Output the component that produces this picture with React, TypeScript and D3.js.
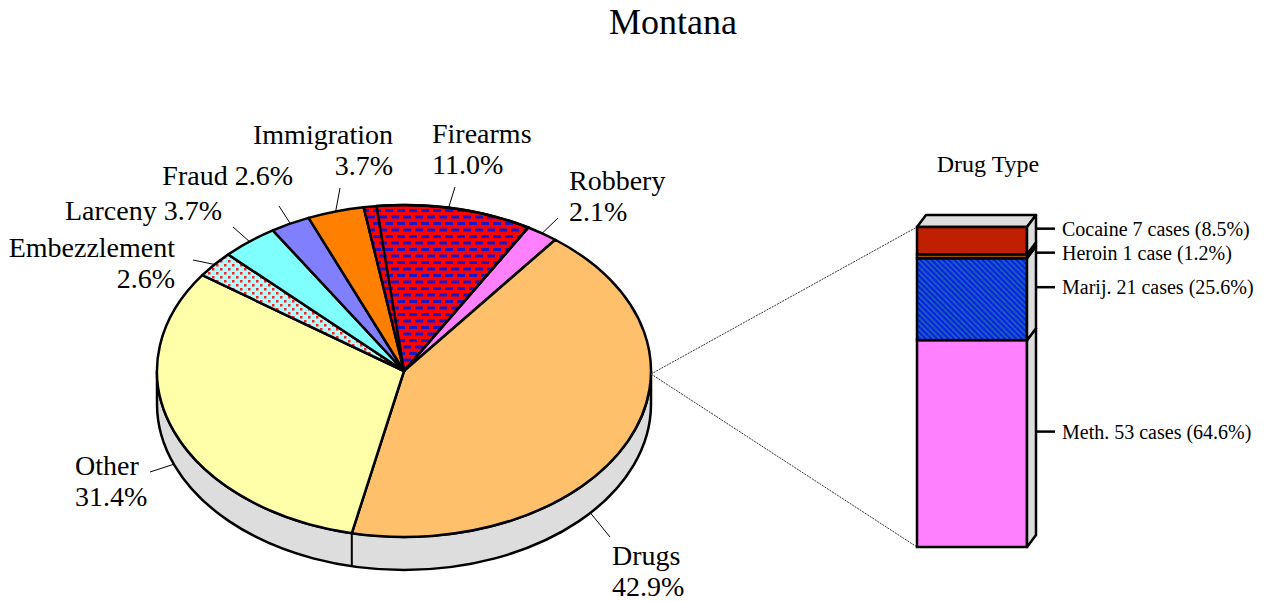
import React from 'react';
import * as d3 from 'd3';

// ---- data ----
const categories = ['Robbery', 'Drugs', 'Other', 'Embezzlement', 'Larceny', 'Fraud', 'Immigration', 'Firearms'];
const percents = [2.1, 42.9, 31.4, 2.6, 3.7, 2.6, 3.7, 11.0];
const sliceFills = ['#FF80FF', '#FFC06C', '#FFFFAA', 'url(#embez)', '#80FFFF', '#8080FF', '#FF8000', 'url(#firearms)'];

const drugTypes = ['Meth.', 'Marij.', 'Heroin', 'Cocaine'];
const drugCases = [53, 21, 1, 7];
const drugPct = [64.6, 25.6, 1.2, 8.5];
const drugFills = ['#FF80FF', 'url(#marij)', '#A05000', '#C02000'];

// ---- layout ----
const W = 1272, H = 602;
const FONT = "'Liberation Serif', 'Times New Roman', serif";
const cx = 404, cy = 371, rx = 247, ry = 166, depth = 33;
const startDeg = 30.2;

// label layout (text placement and leader end)
const labelLayout: Record<string, any> = {
  Robbery: { x: 569, y: 190, anchor: 'start', two: true, lx: 558, ly: 218 },
  Drugs: { x: 612, y: 565, anchor: 'start', two: true, lx: 610, ly: 537, angle: 131 },
  Other: { x: 75, y: 475, anchor: 'start', two: true, lx: 150, ly: 472 },
  Embezzlement: { x: 175, y: 257, anchor: 'end', two: true, lx: 193, ly: 260 },
  Larceny: { x: 222, y: 220, anchor: 'end', two: false, lx: 233, ly: 227 },
  Fraud: { x: 293, y: 185, anchor: 'end', two: false, lx: 279, ly: 206 },
  Immigration: { x: 393, y: 144, anchor: 'end', two: true, lx: 340, ly: 188 },
  Firearms: { x: 432, y: 143, anchor: 'start', two: true, lx: 455, ly: 187 },
};

const bar = { x0: 917, x1: 1027, top: 227, bottom: 547, dx: 9, dy: 12 };

function pt(a: number, dz = 0): [number, number] {
  return [cx + rx * Math.sin(a), cy - ry * Math.cos(a) + dz];
}
function slicePath(a0: number, a1: number) {
  const p0 = pt(a0), p1 = pt(a1);
  const large = a1 - a0 > Math.PI ? 1 : 0;
  return `M${cx},${cy}L${p0[0]},${p0[1]}A${rx},${ry} 0 ${large} 1 ${p1[0]},${p1[1]}Z`;
}

export default function App() {
  const rad = (d: number) => (d * Math.PI) / 180;
  const pie = d3.pie<number>().sort(null).value((d) => d)
    .startAngle(rad(startDeg)).endAngle(rad(startDeg) + 2 * Math.PI);
  const arcs = pie(percents);

  const pR = pt(Math.PI / 2), pL = pt(1.5 * Math.PI);
  const pRb = pt(Math.PI / 2, depth), pLb = pt(1.5 * Math.PI, depth);
  const sidePath = `M${pR[0]},${pR[1]}A${rx},${ry} 0 0 1 ${pL[0]},${pL[1]}L${pLb[0]},${pLb[1]}A${rx},${ry} 0 0 0 ${pRb[0]},${pRb[1]}Z`;

  // boundaries visible on side
  const sideEdges: number[] = [];
  arcs.forEach((a) => {
    const e = ((a.endAngle % (2 * Math.PI)) + 2 * Math.PI) % (2 * Math.PI);
    if (e > Math.PI / 2 && e < 1.5 * Math.PI) sideEdges.push(e);
  });

  // bar scale
  const total = d3.sum(drugCases);
  const y = d3.scaleLinear().domain([0, total]).range([bar.bottom, bar.top]);
  let acc = 0;
  const segs = drugCases.map((v, i) => {
    const s = { i, y0: y(acc + v), y1: y(acc) };
    acc += v;
    return s;
  });
  // label positions: from top down with min spacing
  const order = segs.slice().reverse();
  let prev = -Infinity;
  const labelY: Record<number, number> = {};
  order.forEach((s) => {
    let ly = (s.y0 + s.y1) / 2 - bar.dy;
    if (ly < prev + 24) ly = prev + 24;
    labelY[s.i] = ly;
    prev = ly;
  });

  const fa = arcs[7];
  const faInner = slicePath(fa.startAngle + rad(3), fa.endAngle);

  return (
    <svg width={W} height={H} style={{ position: 'absolute', left: 0, top: 0, background: '#fff' }} fontFamily={FONT}>
      <defs>
        <pattern id="firearms" patternUnits="userSpaceOnUse" width={12} height={13}>
          <rect width={12} height={13} fill="#FF0000" />
          <rect x={1} y={1} width={8} height={3} fill="#1818C8" />
          <rect x={7} y={7.5} width={8} height={3} fill="#1818C8" />
          <rect x={-5} y={7.5} width={8} height={3} fill="#1818C8" />
        </pattern>
        <pattern id="embez" patternUnits="userSpaceOnUse" width={8} height={8}>
          <rect width={8} height={8} fill="#A8FFFF" />
          <rect x={0} y={0} width={2.5} height={2.5} fill="#FF2020" />
          <rect x={4} y={4} width={2.5} height={2.5} fill="#FF2020" />
        </pattern>
        <pattern id="marij" patternUnits="userSpaceOnUse" width={4} height={4} patternTransform="rotate(-45)">
          <rect width={4} height={4} fill="#0A1EE0" />
          <line x1={1} y1={0} x2={1} y2={4} stroke="#20A0A0" strokeWidth={1} />
        </pattern>
      </defs>

      <text x={673} y={34} textAnchor="middle" fontSize={36}>Montana</text>

      {/* pie side */}
      <path d={sidePath} fill="#DDDDDD" stroke="#000" strokeWidth={2.5} />
      {sideEdges.map((e, i) => {
        const a = pt(e), b = pt(e, depth);
        return <line key={i} x1={a[0]} y1={a[1]} x2={b[0]} y2={b[1]} stroke="#000" strokeWidth={2} />;
      })}

      {/* slices */}
      {arcs.map((a, i) => (
        <path key={i} d={slicePath(a.startAngle, a.endAngle)} fill={sliceFills[i]}
          stroke={i === 7 ? 'none' : '#000'} strokeWidth={2.5} strokeLinejoin="round" />
      ))}
      <path d={slicePath(fa.startAngle, fa.endAngle)} fill="none" stroke="#000" strokeWidth={2.5} />
      <path d={faInner} fill="none" stroke="#000" strokeWidth={2.5} strokeLinejoin="round" />

      {/* leaders and labels */}
      {arcs.map((a, i) => {
        const name = categories[i];
        const L = labelLayout[name];
        const mid = L.angle !== undefined ? rad(L.angle) : (a.startAngle + a.endAngle) / 2;
        const m = ((mid % (2 * Math.PI)) + 2 * Math.PI) % (2 * Math.PI);
        const onSide = m > Math.PI / 2 && m < 1.5 * Math.PI;
        const e = pt(mid, onSide ? depth : 0);
        const pctText = `${percents[i].toFixed(1)}%`;
        return (
          <g key={name}>
            <line x1={e[0]} y1={e[1]} x2={L.lx} y2={L.ly} stroke="#000" strokeWidth={1} />
            {L.two ? (
              <text x={L.x} y={L.y} textAnchor={L.anchor} fontSize={28}>
                <tspan x={L.x}>{name}</tspan>
                <tspan x={L.x} dy={31}>{pctText}</tspan>
              </text>
            ) : (
              <text x={L.x} y={L.y} textAnchor={L.anchor} fontSize={28}>{`${name} ${pctText}`}</text>
            )}
          </g>
        );
      })}

      {/* connectors */}
      <line x1={pR[0]} y1={pR[1] + 3} x2={bar.x0} y2={bar.top} stroke="#333" strokeWidth={1} strokeDasharray="2,1" />
      <line x1={pR[0]} y1={pR[1] + 3} x2={bar.x0} y2={bar.bottom} stroke="#333" strokeWidth={1} strokeDasharray="2,1" />

      {/* bar */}
      <text x={988} y={172} textAnchor="middle" fontSize={24}>Drug Type</text>
      <polygon
        points={`${bar.x0},${bar.top} ${bar.x0 + bar.dx},${bar.top - bar.dy} ${bar.x1 + bar.dx},${bar.top - bar.dy} ${bar.x1},${bar.top}`}
        fill="#DDDDDD" stroke="#000" strokeWidth={2.5} strokeLinejoin="round" />
      {segs.map((s) => (
        <g key={s.i}>
          <rect x={bar.x0} y={s.y0} width={bar.x1 - bar.x0} height={s.y1 - s.y0}
            fill={drugFills[s.i]} stroke="#000" strokeWidth={2.5} />
          <polygon
            points={`${bar.x1},${s.y0} ${bar.x1 + bar.dx},${s.y0 - bar.dy} ${bar.x1 + bar.dx},${s.y1 - bar.dy} ${bar.x1},${s.y1}`}
            fill="#DDDDDD" stroke="#000" strokeWidth={2.5} strokeLinejoin="round" />
        </g>
      ))}
      {segs.map((s) => {
        const ly = labelY[s.i];
        const n = drugCases[s.i];
        const txt = `${drugTypes[s.i]} ${n} ${n === 1 ? 'case' : 'cases'} (${drugPct[s.i].toFixed(1)}%)`;
        return (
          <g key={'l' + s.i}>
            <line x1={bar.x1 + bar.dx + 1} y1={ly} x2={bar.x1 + bar.dx + 19} y2={ly} stroke="#000" strokeWidth={2.5} />
            <text x={bar.x1 + bar.dx + 26} y={ly} dy="0.35em" fontSize={20}>{txt}</text>
          </g>
        );
      })}
    </svg>
  );
}
